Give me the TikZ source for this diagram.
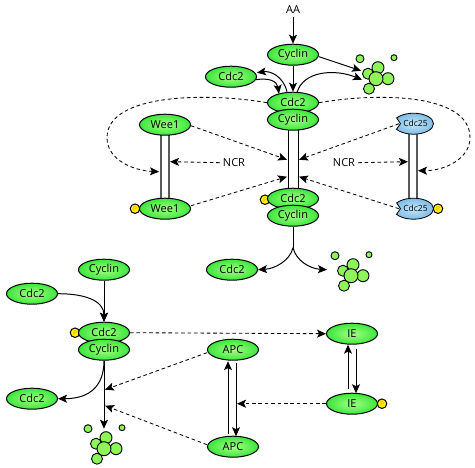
\documentclass[tikz,border=0pt]{standalone}
\usepackage{fontspec}
\setmainfont{Open Sans}
\usetikzlibrary{shapes.geometric,arrows.meta}
\definecolor{gin}{HTML}{A4FF84}
\definecolor{gout}{HTML}{3CE63C}
\definecolor{bin}{HTML}{C6E6F8}
\definecolor{bout}{HTML}{7DBDE6}
\definecolor{bub}{HTML}{8DF55A}
\definecolor{porange}{HTML}{FF9A00}
\tikzset{
  x=1pt,y=-1pt,
  prot/.style={ellipse,draw=black,line width=1pt,inner sep=0pt,minimum width=51pt,minimum height=21pt,inner color=gin,outer color=gout,font=\fontsize{11}{12}\selectfont},
  blueprot/.style={ellipse,draw=black,line width=.8pt,inner sep=0pt,minimum width=38pt,minimum height=21pt,inner color=bin,outer color=bout,font=\fontsize{8.5}{10}\selectfont,text=black},
  phos/.style={circle,draw=black,line width=1pt,fill=yellow,inner sep=0pt,minimum size=9.5pt,text=porange,font=\fontsize{6.5}{7}\selectfont},
  lab/.style={font=\fontsize{11}{12}\selectfont,inner sep=3pt},
  tipped/.style={-{Stealth[length=9pt,width=8pt,inset=2pt]}},
  arr/.style={tipped,line width=1pt,draw=black},
  dashline/.style={tipped,line width=.85pt,dash pattern=on 3.6pt off 2.8pt},
  bar/.style={line width=.9pt,draw=black},
  graybar/.style={line width=1.1pt,draw=black!65},
  pics/bubbles/.style={code={
    \foreach \a/\b/\r in {-16/-20/4, 18/-21/3, 2/-11/6, -8/-5/5.5, 12/0/6, -7/10/5.5, 0/0/7}{
      \draw[fill=bub,line width=.9pt] (\a,\b) circle[radius=\r pt];}
  }}
}
\begin{document}
\begin{tikzpicture}
\useasboundingbox (0,-0.7) rectangle (475,466.3);
\fill[white] (0,-0.7) rectangle (475,466.3);
% coordinates
\coordinate (barTL) at (288,128); \coordinate (barBL) at (288,190);
\coordinate (barTR) at (298,128); \coordinate (barBR) at (298,190);
\coordinate (weeL1) at (161,132); \coordinate (weeL2) at (161,200);
\coordinate (weeR1) at (169,132); \coordinate (weeR2) at (169,200);
\coordinate (cdcL1) at (409,132); \coordinate (cdcL2) at (409,200);
\coordinate (cdcR1) at (417,132); \coordinate (cdcR2) at (417,200);
% bars
\draw[bar] (barTL)--(barBL); \draw[bar] (barTR)--(barBR);
\draw[graybar] (weeL1)--(weeL2); \draw[graybar] (weeR1)--(weeR2);
\draw[graybar] (cdcL1)--(cdcL2); \draw[graybar] (cdcR1)--(cdcR2);
% phospho dots
\node[phos] (p1) at (135,208) {P};
\node[phos] (p2) at (265,199) {P};
\node[phos] (p3) at (438,208) {P};
\node[phos] (p4) at (75,332) {P};
\node[phos] (p5) at (382,403) {P};
% proteins
\node[lab] (aa) at (293,9) {AA};
\node[prot] (cyc1) at (293,54) {Cyclin};
\node[prot] (cdcfree) at (231,76) {Cdc2};
\node[prot] (cdcA) at (293,102) {Cdc2};
\node[prot] (cycA) at (293,119) {Cyclin};
\node[prot] (wee1) at (165,124) {Wee1};
\node[prot] (wee2) at (165,208) {Wee1};
\node[prot] (cdcB) at (293,198) {Cdc2};
\node[prot] (cycB) at (293,215) {Cyclin};
\node[prot] (cdcout) at (232,269) {Cdc2};
\node[prot] (cyc2) at (104,269) {Cyclin};
\node[prot] (cdcin) at (32,293) {Cdc2};
\node[prot] (cdcC) at (104,332) {Cdc2};
\node[prot] (cycC) at (104,349) {Cyclin};
\node[prot] (cdcout2) at (32,398) {Cdc2};
\node[prot] (apc1) at (233,349) {APC};
\node[prot] (apc2) at (233,446) {APC};
\node[prot] (ie1) at (352,333) {IE};
\node[prot] (ie2) at (352,403) {IE};
\node[blueprot] (c25a) at (413.5,123) {\hspace{4pt}Cdc25};
\node[blueprot] (c25b) at (413.5,208) {\hspace{4pt}Cdc25};
\foreach \cy in {123,208}{
  \fill[white] (390,\cy-6)--(396.5,\cy-6)--(400.5,\cy)--(396.5,\cy+5.5)--(390,\cy+5.5)--cycle;
  \draw[line width=.8pt] (396.5,\cy-6)--(400.5,\cy)--(396.5,\cy+5.5);
}
\node[lab] (ncr1) at (234,162) {NCR};
\node[lab] (ncr2) at (344,162) {NCR};
% bubbles
\pic at (376,78) {bubbles};
\pic at (351,275) {bubbles};
\pic at (104,448) {bubbles};
% free ends
\coordinate (bubA) at (361,70); \coordinate (bubAb) at (362,79);
\coordinate (split) at (293,247);
\coordinate (bubB) at (327,269);
\coordinate (trunkL) at (287,159); \coordinate (trunkL2) at (287,176);
\coordinate (trunkR) at (299,159); \coordinate (trunkR2) at (299,176);
\coordinate (weeBarIn) at (159,171); \coordinate (cdcBarIn) at (418,170);
\coordinate (weeNcr) at (170,161); \coordinate (cdcNcr) at (408,161);
\coordinate (stemA) at (105,389); \coordinate (stemB) at (105,405);
\coordinate (bubC) at (104,428);
\coordinate (apcBarIn) at (237,403);
\coordinate (cfTop) at (257,72); \coordinate (cfBot) at (256,79);
\coordinate (cxL) at (287,91); \coordinate (cxM) at (279,93); \coordinate (cxR) at (297,92);
\coordinate (cycOut) at (319,56);
% top solid arrows
\draw[arr] (aa.south) -- (cyc1.north);
\draw[arr] (cyc1.south) -- (cdcA.north);
\draw[arr] (cycOut) -- (bubA);
\draw[arr] (cxL) .. controls (283,75) and (270,70) .. (cfTop);
\draw[arr] (cfBot) .. controls (268,77) and (277,80) .. (cxM);
\draw[arr] (cxR) .. controls (303,70) and (335,68) .. (bubAb);
% dashed loops
\draw[dashline] (cdcA.west) .. controls (210,92) and (107,92) .. (107,137) .. controls (107,160) and (135,170) .. (weeBarIn);
\draw[dashline] (cdcA.east) .. controls (376,92) and (470,92) .. (470,137) .. controls (470,158) and (445,170) .. (cdcBarIn);
\draw[dashline] (wee1.east) ++(0,1) -- (trunkL);
\draw[dashline] (wee2.east) ++(0,-3) -- (trunkL2);
\draw[dashline] (c25a.west) ++(6,0) -- (trunkR);
\draw[dashline] (c25b.west) ++(6,0) -- (trunkR2);
\draw[dashline] (ncr1.west) -- (weeNcr);
\draw[dashline] (ncr2.east) -- (cdcNcr);
% lower middle
\draw[line width=1pt] (cycB.south) -- (split);
\draw[arr] (split) .. controls (290,260) and (275,268) .. (cdcout.east);
\draw[arr] (split) .. controls (296,260) and (310,268) .. (bubB);
% lower left
\draw[arr] (cyc2.south) -- (cdcC.north);
\draw[arr] (cdcin.east) .. controls (85,293) and (104,300) .. (cdcC.north);
\draw[arr] (cycC.south) -- (bubC);
\draw[arr] (cycC.south) .. controls (104,385) and (90,398) .. (cdcout2.east);
\draw[dashline] (cdcC.east) -- (ie1.west);
\draw[dashline] (apc1.west) ++(0,3) -- (stemA);
\draw[dashline] (apc2.west) ++(0,-2) -- (stemB);
\draw[dashline] (ie2.west) -- (apcBarIn);
% cycle arrows
\draw[arr] (228,433) -- (228,360.5);
\draw[arr] (236,362) -- (236,435.5);
\draw[arr] (348,388) -- (348,344);
\draw[arr] (356,348) -- (356,392.5);
\end{tikzpicture}
\end{document}
